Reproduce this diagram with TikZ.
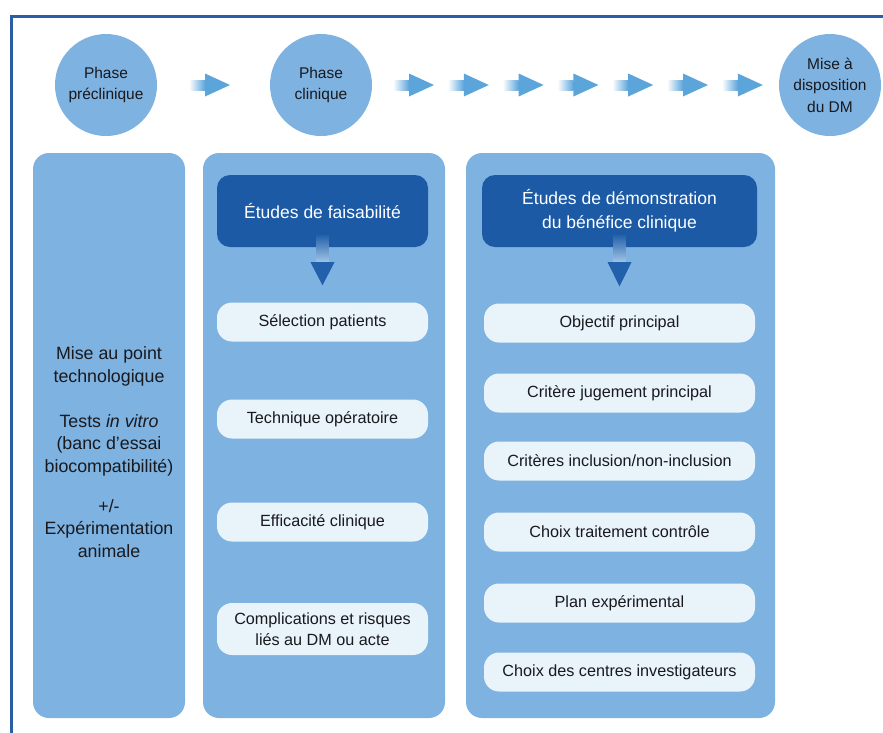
\documentclass[tikz,border=0pt]{standalone}
\usepackage{fontspec}
\setmainfont{Liberation Sans}
\usetikzlibrary{shadings}
\definecolor{panelblue}{RGB}{126,178,224}
\definecolor{headblue}{RGB}{28,90,166}
\definecolor{boxfill}{RGB}{232,243,250}
\definecolor{frameblue}{RGB}{43,94,167}
\definecolor{arrowblue}{RGB}{92,165,219}
\definecolor{downblue}{RGB}{34,96,172}
\definecolor{textdark}{RGB}{25,25,30}
\tikzset{
  panel/.style={fill=panelblue, rounded corners=16pt, inner sep=0pt},
  phase/.style={circle, fill=panelblue, minimum size=102pt, inner sep=0pt, align=center,
    font=\fontsize{15.5}{21.5}\selectfont, text=textdark},
  header/.style={fill=headblue, rounded corners=13pt, minimum height=72pt, inner sep=0pt,
    text=white, align=center, font=\fontsize{17.5}{24}\selectfont},
  item/.style={fill=boxfill, rounded corners=15pt, minimum height=39pt, inner sep=0pt,
    align=center, font=\fontsize{16.2}{21}\selectfont, text=textdark},
  rarrow/.pic={
    \shade[left color=white, right color=arrowblue] (-21,-5) rectangle (-5,5);
    \fill[arrowblue] (-5,-11.5) -- (20,0) -- (-5,11.5) -- cycle;
  },
}
\begin{document}
\begin{tikzpicture}[x=1pt,y=-1pt]
\useasboundingbox (0,0) rectangle (883,732);
% frame
\draw[frameblue, line width=3pt] (11,740) -- (11,16) -- (890,16);
% phases
\node[phase] (c1) at (106,85) {Phase\\préclinique};
\node[phase] (c2) at (321,85) {Phase\\clinique};
\node[phase] (c3) at (830,85) {Mise à\\disposition\\du DM};
\pic at (210,85) {rarrow};
\foreach \i in {0,...,6} {
  \pic at ({414+54.8*\i},85) {rarrow};
}
% panels
\node[panel, minimum width=152pt, minimum height=565pt] (p1) at (109,435.5) {};
\node[panel, minimum width=242pt, minimum height=565pt] (p2) at (324,435.5) {};
\node[panel, minimum width=309pt, minimum height=565pt] (p3) at (620.5,435.5) {};
% left panel text
\node[align=center, text=textdark, font=\fontsize{17.8}{22.5}\selectfont] (lt) at (109,452)
  {Mise au point\\technologique\\[22.5pt]Tests \textit{in vitro}\\(banc d’essai\\biocompatibilité)\\[17.5pt]+/-\\Expérimentation\\animale};
% headers
\node[header, minimum width=211pt] (h1) at (322.5,211) {Études de faisabilité};
\node[header, minimum width=275pt] (h2) at (619.5,211) {Études de démonstration\\du bénéfice clinique};
% middle items
\node[item, minimum width=211pt] (m1) at (322.5,322) {Sélection patients};
\node[item, minimum width=211pt] (m2) at (322.5,419) {Technique opératoire};
\node[item, minimum width=211pt] (m3) at (322.5,522) {Efficacité clinique};
\node[item, minimum width=211pt, minimum height=52pt] (m4) at (322.5,629) {Complications et risques\\liés au DM ou acte};
% right items
\node[item, minimum width=271pt] (r1) at (619.5,323) {Objectif principal};
\node[item, minimum width=271pt] (r2) at (619.5,393) {Critère jugement principal};
\node[item, minimum width=271pt] (r3) at (619.5,461) {Critères inclusion/non-inclusion};
\node[item, minimum width=271pt] (r4) at (619.5,532) {Choix traitement contrôle};
\node[item, minimum width=271pt] (r5) at (619.5,603) {Plan expérimental};
\node[item, minimum width=271pt] (r6) at (619.5,672) {Choix des centres investigateurs};
% down arrows
\foreach \h/\b in {h1/m1, h2/r1} {
  \shade[top color=headblue, bottom color=panelblue!70!white]
    ([xshift=-6pt,yshift=14pt]\h.south) rectangle ([xshift=6pt,yshift=-16pt]\h.south);
  \fill[downblue] ([xshift=-12pt,yshift=-15pt]\h.south) -- ([xshift=12pt,yshift=-15pt]\h.south)
    -- ([yshift=17pt]\b.north) -- cycle;
}
\end{tikzpicture}
\end{document}
